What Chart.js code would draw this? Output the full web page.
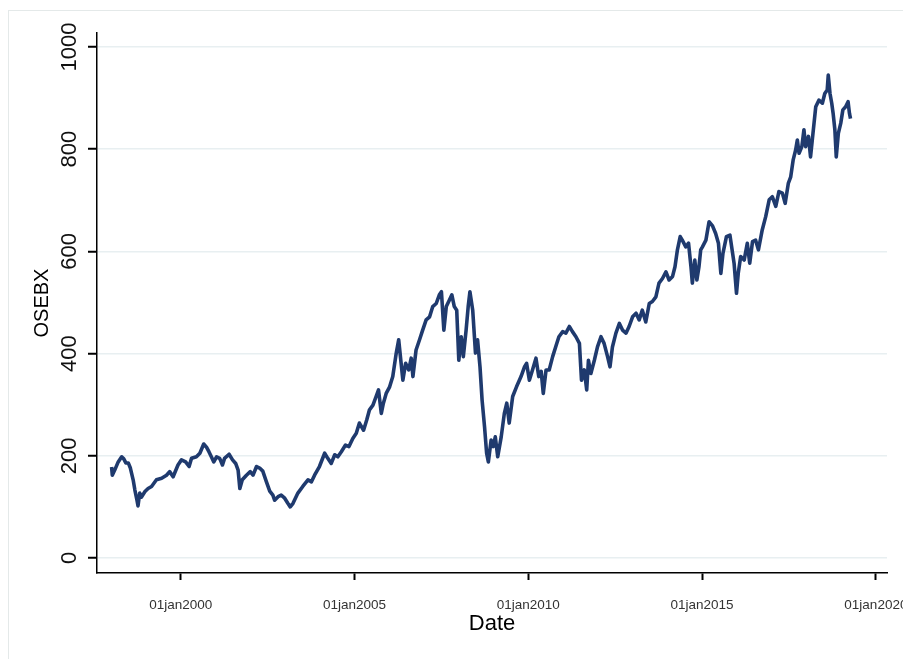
<!DOCTYPE html>
<html>
<head>
<meta charset="utf-8">
<script src="https://cdn.jsdelivr.net/npm/chart.js@4/dist/chart.umd.min.js"></script>
<style>
html,body{margin:0;padding:0;background:#fff;}
canvas{display:block;}
</style>
</head>
<body>
<canvas id="c" width="903" height="659"></canvas>
<script>
// Dates as decimal years
const years = [
1998.01,1998.03,1998.10,1998.20,1998.30,1998.36,1998.42,1998.49,1998.55,1998.63,1998.68,1998.74,1998.77,1998.82,1998.87,1998.97,
1999.06,1999.16,1999.30,1999.45,1999.59,1999.68,1999.78,1999.92,
2000.02,2000.14,2000.24,2000.31,2000.45,2000.55,2000.66,2000.74,2000.81,2000.88,2000.95,
2001.03,2001.12,2001.20,2001.26,2001.39,2001.49,2001.58,2001.65,2001.70,2001.77,2001.89,
2002.00,2002.08,2002.18,2002.27,2002.36,2002.46,2002.56,2002.65,2002.70,2002.80,2002.89,2002.99,
2003.08,2003.15,2003.23,2003.37,2003.51,2003.66,2003.76,2003.85,2003.99,
2004.14,2004.23,2004.33,2004.43,2004.52,2004.62,2004.74,2004.84,2004.95,
2005.05,2005.14,2005.26,2005.35,2005.43,2005.53,2005.62,2005.69,2005.77,2005.83,2005.91,
2006.01,2006.10,2006.20,2006.27,2006.34,2006.39,2006.47,2006.56,2006.63,2006.68,2006.77,2006.87,2006.96,
2007.06,2007.16,2007.25,2007.35,2007.44,2007.50,2007.57,2007.64,2007.73,2007.80,2007.87,2007.94,
2008.00,2008.07,2008.13,2008.21,2008.27,2008.32,2008.40,2008.48,2008.54,2008.61,2008.67,2008.74,2008.80,2008.85,2008.93,2008.99,
2009.05,2009.12,2009.22,2009.31,2009.38,2009.45,2009.55,2009.66,2009.79,2009.89,2009.95,
2010.03,2010.12,2010.22,2010.30,2010.37,2010.43,2010.51,2010.60,2010.70,2010.80,2010.88,2010.99,
2011.08,2011.18,2011.27,2011.37,2011.47,2011.53,2011.61,2011.68,2011.73,2011.80,2011.90,2011.99,
2012.09,2012.18,2012.28,2012.35,2012.42,2012.52,2012.62,2012.71,2012.81,2012.90,
2013.00,2013.10,2013.19,2013.28,2013.38,2013.48,2013.57,2013.67,2013.76,2013.86,2013.96,
2014.05,2014.15,2014.22,2014.29,2014.37,2014.43,2014.53,2014.61,2014.68,2014.72,2014.79,2014.85,2014.91,2014.96,
2015.01,2015.11,2015.20,2015.30,2015.39,2015.47,2015.54,2015.60,2015.70,2015.80,2015.85,2015.92,2015.99,
2016.04,2016.11,2016.21,2016.30,2016.37,2016.45,2016.54,2016.62,2016.73,2016.83,2016.93,
2017.02,2017.12,2017.21,2017.31,2017.39,2017.48,2017.55,2017.62,2017.69,2017.74,2017.79,2017.87,2017.93,2017.98,
2018.06,2018.12,2018.19,2018.27,2018.36,2018.46,2018.53,2018.60,2018.63,2018.68,2018.73,2018.77,2018.82,2018.86,2018.92,2018.99,
2019.05,2019.13,2019.20,2019.24,2019.27
];
const osebx = [
178,162,172,188,198,194,186,186,176,153,133,113,102,127,119,130,
136,140,153,156,162,169,159,182,
192,188,179,195,198,205,223,217,208,198,188,
198,195,182,195,203,192,185,172,136,153,162,
169,162,179,176,170,150,131,123,113,120,123,117,
107,100,107,127,140,153,149,162,179,
205,195,185,202,198,208,221,218,234,
244,264,250,270,290,299,316,329,283,303,322,
335,355,401,427,381,348,381,368,391,355,407,427,446,
466,472,492,498,515,521,446,492,505,515,492,485,
387,433,394,446,492,521,485,401,427,374,309,257,205,188,231,218,
237,198,237,283,303,264,316,335,355,374,381,
348,368,391,355,365,322,368,368,394,416,433,443,
440,453,443,433,420,348,368,329,387,361,387,413,
433,420,394,374,413,440,459,446,440,453,
472,479,466,485,462,498,502,511,538,547,560,
544,551,570,603,629,622,609,616,570,538,583,544,570,603,
609,622,658,650,635,616,557,596,629,632,609,577,518,
557,590,583,616,577,619,622,603,642,668,701,
707,688,717,714,694,733,746,779,798,818,792,805,838,805,
825,785,831,883,896,890,909,916,945,909,890,870,838,785,831,851,
877,883,893,870,860
];
const yTickValues = [0, 200, 400, 600, 800, 1000];
const xTickYears = [2000, 2005, 2010, 2015, 2020];
const xTitle = 'Date';
const yTitle = 'OSEBX';

const points = years.map((y, i) => ({x: y, y: osebx[i]}));

const FONT = '"Liberation Sans", Arial, sans-serif';

const frame = {
  id: 'frame',
  beforeDraw(chart) {
    const ctx = chart.ctx;
    ctx.save();
    ctx.fillStyle = '#ffffff';
    ctx.fillRect(0, 0, chart.width, chart.height);
    ctx.strokeStyle = '#e4e9e9';
    ctx.lineWidth = 1;
    ctx.strokeRect(8.5, 10.5, chart.width + 10, chart.height + 10);
    ctx.restore();
  }
};

new Chart(document.getElementById('c'), {
  type: 'line',
  data: {
    datasets: [{
      data: points,
      borderColor: '#1f3a6e',
      borderWidth: 3.6,
      borderJoinStyle: 'round',
      pointRadius: 0,
      tension: 0,
      fill: false
    }]
  },
  options: {
    responsive: false,
    animation: false,
    devicePixelRatio: 1,
    layout: {padding: {left: 0, top: 33, right: 16, bottom: 0}},
    plugins: {legend: {display: false}, tooltip: {enabled: false}},
    scales: {
      x: {
        type: 'linear',
        position: 'bottom',
        min: 1997.59,
        max: 2020.32,
        afterBuildTicks(scale) { scale.ticks = xTickYears.map(v => ({value: v})); },
        afterFit(scale) { scale.height = 86; scale.paddingLeft = 0; scale.paddingRight = 0; },
        grid: {display: true, drawOnChartArea: false, drawTicks: true, tickLength: 7, tickColor: '#000', tickWidth: 2},
        border: {display: true, color: '#000', width: 1.5},
        ticks: {
          autoSkip: false, maxRotation: 0, minRotation: 0, padding: 17,
          color: '#333', font: {family: FONT, size: 13.5},
          callback: v => '01jan' + v
        },
        title: {display: true, text: xTitle, color: '#000', font: {family: FONT, size: 22}, padding: {top: 0, bottom: 22}}
      },
      y: {
        type: 'linear',
        position: 'left',
        min: -29.4,
        max: 1027.4,
        afterBuildTicks(scale) { scale.ticks = yTickValues.map(v => ({value: v})); },
        afterFit(scale) { scale.width = 97; scale.paddingTop = 0; scale.paddingBottom = 0; },
        grid: {display: true, drawOnChartArea: true, color: '#e8eff1', lineWidth: 1.5, drawTicks: true, tickLength: 9, tickColor: '#000', tickWidth: 2},
        border: {display: true, color: '#000', width: 1.5},
        ticks: {
          autoSkip: false, minRotation: 90, maxRotation: 90, crossAlign: 'center', padding: -6,
          color: '#111', font: {family: FONT, size: 22},
          callback: v => String(v)
        },
        title: {display: true, text: yTitle, color: '#000', font: {family: FONT, size: 20}, padding: {top: 30, bottom: 0}}
      }
    }
  },
  plugins: [frame]
});
</script>
</body>
</html>
